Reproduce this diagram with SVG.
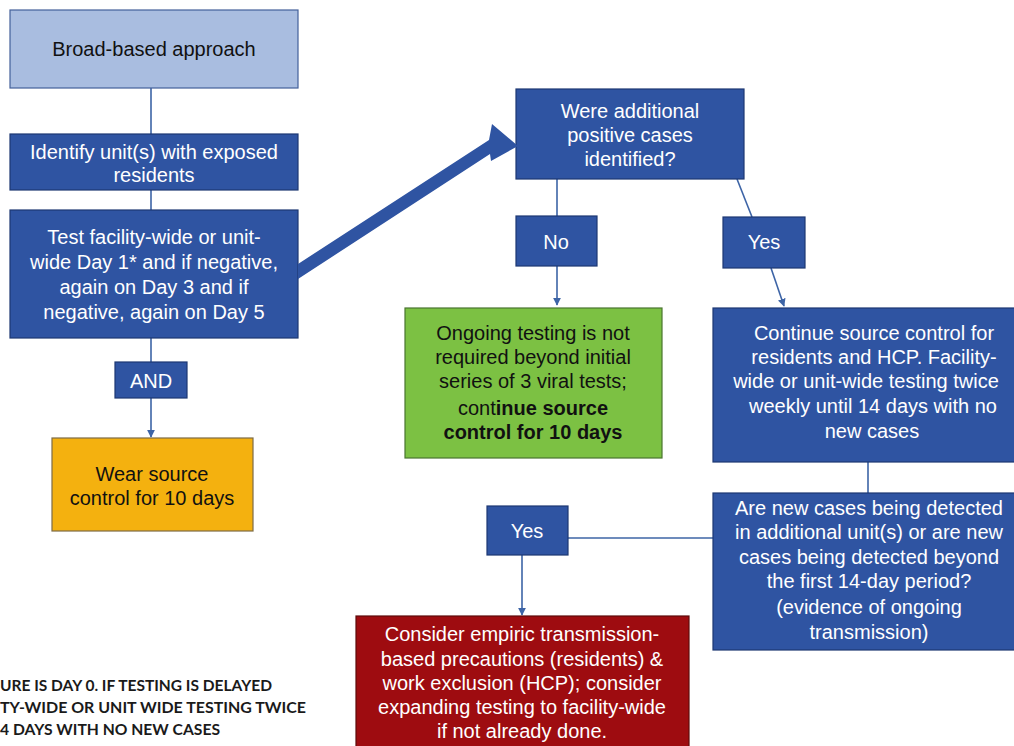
<svg xmlns="http://www.w3.org/2000/svg" width="1014" height="746" viewBox="0 0 1014 746">
<style>
text{font-family:"Liberation Sans",Arial,sans-serif;font-size:20px;text-anchor:middle}
.w{fill:#ffffff}
.k{fill:#111111}
.b{font-weight:bold}
.blue{fill:#2f54a2;stroke:#1d3872;stroke-width:1.2}
.conn{stroke:#3d64a6;stroke-width:1.6;fill:none}
.note{font-family:Lato,"Open Sans",sans-serif;font-weight:bold;font-size:16px;text-anchor:start;fill:#1a1a1a}
</style>
<defs>
<marker id="ah" viewBox="0 0 10 10" refX="9" refY="5" markerWidth="8" markerHeight="8" markerUnits="userSpaceOnUse" orient="auto">
<path d="M0,0 L10,5 L0,10 z" fill="#3d64a6"/>
</marker>
</defs>
<rect width="1014" height="746" fill="#ffffff"/>
<g id="connectors">
<line class="conn" x1="151" y1="88" x2="151" y2="134"/>
<line class="conn" x1="151" y1="190" x2="151" y2="210"/>
<line class="conn" x1="151" y1="338" x2="151" y2="362"/>
<line class="conn" x1="151" y1="398" x2="151" y2="437" marker-end="url(#ah)"/>
<line class="conn" x1="557" y1="179" x2="557" y2="216"/>
<line class="conn" x1="557" y1="266" x2="557" y2="305" marker-end="url(#ah)"/>
<line class="conn" x1="737" y1="179" x2="752" y2="217"/>
<line class="conn" x1="771" y1="268" x2="784" y2="306" marker-end="url(#ah)"/>
<line class="conn" x1="868" y1="462" x2="868" y2="493"/>
<line class="conn" x1="568" y1="538" x2="713" y2="538" stroke-width="2.2"/>
<line class="conn" x1="522" y1="555" x2="522" y2="615" marker-end="url(#ah)"/>
</g>
<g id="broad">
<rect x="10" y="10" width="288" height="78" fill="#a9bde0" stroke="#44609a" stroke-width="1.2"/>
<text x="154" y="56" class="k">Broad-based approach</text>
</g>
<g id="identify">
<rect class="blue" x="10" y="134" width="288" height="56"/>
<text class="w" x="154" y="159">Identify unit(s) with exposed</text>
<text class="w" x="154" y="182">residents</text>
</g>
<g id="test">
<rect class="blue" x="10" y="210" width="288" height="128"/>
<text class="w" x="154" y="244">Test facility-wide or unit-</text>
<text class="w" x="154" y="269">wide Day 1* and if negative,</text>
<text class="w" x="154" y="294">again on Day 3 and if</text>
<text class="w" x="154" y="319">negative, again on Day 5</text>
</g>
<g id="and">
<rect class="blue" x="115" y="362" width="72" height="36"/>
<text class="w" x="151" y="388">AND</text>
</g>
<g id="wear">
<rect x="52" y="438" width="201" height="93" fill="#f4b10f" stroke="#7d6b45" stroke-width="1.2"/>
<text class="k" x="152" y="481">Wear source</text>
<text class="k" x="152" y="505">control for 10 days</text>
</g>
<g id="were">
<rect class="blue" x="516" y="89" width="228" height="90"/>
<text class="w" x="630" y="118">Were additional</text>
<text class="w" x="630" y="142">positive cases</text>
<text class="w" x="630" y="166">identified?</text>
</g>
<g id="bigarrow">
<polygon points="298,264 489,140 492,124 518,146 491,161 490,154 298,279" fill="#2f54a2"/>
</g>
<g id="no">
<rect class="blue" x="516" y="216" width="81" height="50"/>
<text class="w" x="556" y="249">No</text>
</g>
<g id="yes1">
<rect class="blue" x="723" y="217" width="82" height="51"/>
<text class="w" x="764" y="249">Yes</text>
</g>
<g id="ongoing">
<rect x="405" y="308" width="257" height="150" fill="#7cc143" stroke="#4a7530" stroke-width="1.2"/>
<text class="k" x="533" y="340">Ongoing testing is not</text>
<text class="k" x="533" y="364">required beyond initial</text>
<text class="k" x="533" y="388">series of 3 viral tests;</text>
<text class="k" x="533" y="415">cont<tspan class="b">inue source</tspan></text>
<text class="k b" x="533" y="439">control for 10 days</text>
</g>
<g id="continue">
<rect class="blue" x="713" y="308" width="310" height="154"/>
<text class="w" x="874" y="340">Continue  source control for</text>
<text class="w" x="874" y="364">residents and HCP. Facility-</text>
<text class="w" x="866" y="388">wide or unit-wide testing twice</text>
<text class="w" x="873" y="413">weekly until 14 days with no</text>
<text class="w" x="872" y="438">new cases</text>
</g>
<g id="arenew">
<rect class="blue" x="713" y="493" width="310" height="157"/>
<text class="w" x="869" y="515">Are new cases being detected</text>
<text class="w" x="869" y="539">in additional unit(s) or are new</text>
<text class="w" x="869" y="564">cases being detected beyond</text>
<text class="w" x="869" y="588">the first 14-day period?</text>
<text class="w" x="869" y="614">(evidence of ongoing</text>
<text class="w" x="869" y="639">transmission)</text>
</g>
<g id="yes2">
<rect class="blue" x="487" y="506" width="81" height="49"/>
<text class="w" x="527" y="538">Yes</text>
</g>
<g id="consider">
<rect x="356" y="616" width="333" height="140" fill="#9e0c10" stroke="#5e0a0a" stroke-width="1.2"/>
<text class="w" x="522" y="641">Consider empiric transmission-</text>
<text class="w" x="522" y="666">based precautions (residents) &amp;</text>
<text class="w" x="522" y="690">work exclusion (HCP); consider</text>
<text class="w" x="522" y="714">expanding testing to facility-wide</text>
<text class="w" x="522" y="738">if not already done.</text>
</g>
<g id="footnote">
<text class="note" x="0" y="691" textLength="272" lengthAdjust="spacingAndGlyphs">URE IS DAY 0. IF TESTING IS DELAYED</text>
<text class="note" x="0" y="713" textLength="306" lengthAdjust="spacingAndGlyphs">TY-WIDE OR UNIT WIDE TESTING TWICE</text>
<text class="note" x="0" y="735" textLength="220" lengthAdjust="spacingAndGlyphs">4 DAYS WITH NO NEW CASES</text>
</g>
</svg>
